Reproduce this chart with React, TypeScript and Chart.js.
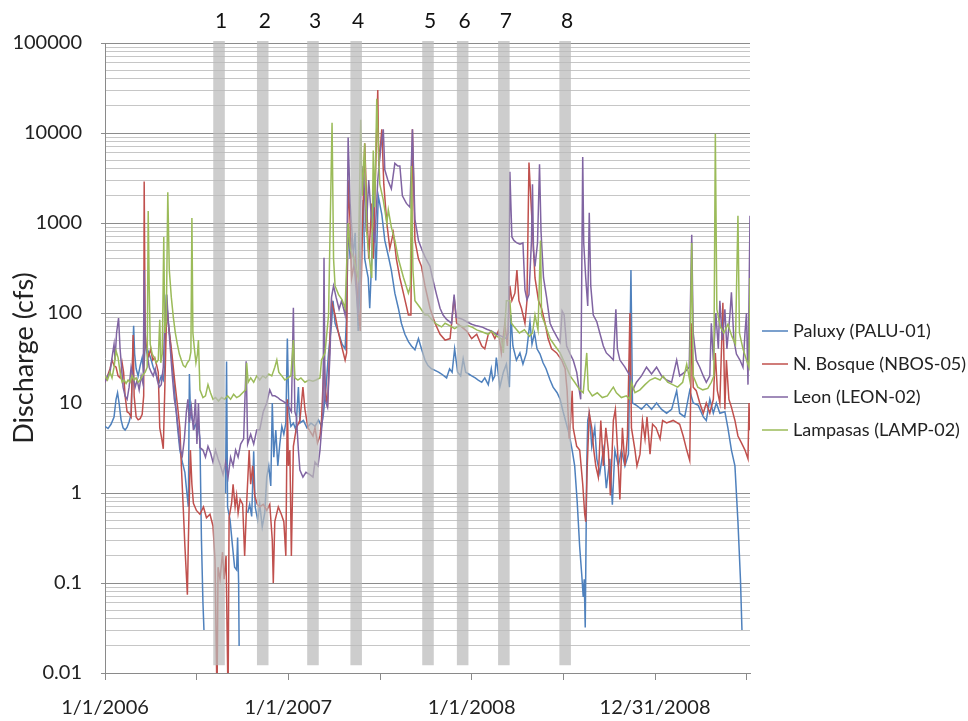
import React, { useEffect, useRef } from "react";
import { Chart, registerables } from "chart.js";

Chart.register(...registerables);

const FONT = "Lato, 'Open Sans', sans-serif";

// x values are days counted from 1/1/2006
const xTickDays = [0, 182.5, 365, 547.5, 730, 912.5, 1095, 1277.5];
const xTickLabels = ["1/1/2006", "", "1/1/2007", "", "1/1/2008", "", "12/31/2008", ""];
const yDecades = [0.01, 0.1, 1, 10, 100, 1000, 10000, 100000];
const yDecadeLabels = ["0.01", "0.1", "1", "10", "100", "1000", "10000", "100000"];
const yMinorSteps = [2, 3, 4, 5, 6, 7, 8, 9];

const seriesNames = ["Paluxy (PALU-01)", "N. Bosque (NBOS-05)", "Leon (LEON-02)", "Lampasas (LAMP-02)"];
const seriesColors = ["#4F81BD", "#C0504D", "#8064A2", "#9BBB59"];

// sampling events (centre day of each window)
const eventDays = [227, 314, 414, 500, 643, 712, 794, 916];
const eventLabels = ["1", "2", "3", "4", "5", "6", "7", "8"];
const eventSpanDays = 23;
const eventFloorCfs = 0.0122;

type Row = [number, number | null];

const paluxyFlow: Row[] = [
  [0,5.5],[6,5.2],[12,5.8],[18,7],[22,11],[25,13],[28,10],[32,6.5],[36,5.3],[40,5],[44,5.4],[48,6.2],[52,7.5],[55,30],[57,72],[59,35],[62,24],[66,20],[70,26],[74,32],[77,22],[80,45],[84,40],[88,35],[92,30],[96,25],[100,22],[104,19],[108,17],[112,20],[116,18],[119,25],[122,160],[125,90],[129,55],[133,30],[137,18],[141,9],[145,5],[149,3],[154,2.2],[159,1.7],[163,1],[166,0.7],[168,21],[170,8],[174,6.4],[178,5.3],[182,6],[186,5.5],[189,4],[192,0.3],[195,0.06],[197,0.03],[198,null],
  [240,1],[242,29],[244,0.7],[249,0.5],[254,0.25],[258,0.15],[262,0.14],[264,0.32],[266,0.1],[267,0.02],[268,null],
  [284,0.6],[288,0.75],[292,0.55],[296,2.9],[299,0.7],[304,0.5],[308,0.75],[313,0.42],[318,0.6],[322,1.5],[326,2],[330,1.2],[333,10],[336,2.5],[340,5],[344,2],[348,3.5],[352,5.5],[356,4.5],[360,6],[363,52],[366,8],[370,5.5],[375,6],[380,5],[385,15],[388,6],[395,6.4],[402,5.3],[410,6],[418,5.5],[425,6.5],[431,5.5],[435,7.7],[440,15],[445,36],[451,77],[454,137],[458,77],[465,60],[472,45],[478,40],[481,95],[484,1000],[488,400],[491,640],[495,500],[498,780],[501,200],[504,63],[508,245],[514,1800],[517,400],[521,300],[524,245],[527,113],[531,400],[535,2700],[539,230],[544,2000],[551,1250],[557,640],[564,430],[570,300],[577,166],[584,113],[590,77],[597,58],[604,48],[610,43],[617,39],[624,52],[630,40],[637,30],[643,26],[650,24],[657,23],[664,22],[670,21],[680,19],[686,24],[691,22],[696,40],[702,22],[708,20],[713,31],[718,22],[724,21],[730,20],[737,19],[743,18],[750,17],[756,19],[763,16],[769,24],[772,18],[776,20],[779,32],[786,15],[793,22],[799,27],[805,15],[808,95],[812,43],[819,30],[826,36],[832,27],[839,36],[846,80],[850,45],[855,60],[860,40],[866,35],[872,28],[878,24],[886,18],[892,15],[900,13],[906,11],[912,8],[918,6],[924,4.5],[930,3],[935,2],[940,0.8],[945,0.25],[949,0.125],[952,0.07],[954,0.11],[956,0.032],[959,2],[961,6.4],[964,7.7],[969,3.3],[975,5.3],[979,2.4],[985,1.66],[992,3],[998,1.13],[1005,2.4],[1010,0.74],[1015,3],[1022,2],[1028,3],[1035,2],[1042,2.7],[1047,300],[1050,10],[1058,9.4],[1068,8.5],[1078,9.8],[1088,8.5],[1098,10],[1108,8.5],[1118,7.7],[1128,8.5],[1138,13.7],[1144,7.7],[1154,7],[1164,13.7],[1171,10],[1181,9.4],[1191,7],[1197,6.4],[1204,11],[1211,7.7],[1217,10],[1224,7.7],[1234,8],[1240,5.3],[1247,3],[1254,2],[1260,0.48],[1265,0.11],[1268,0.03]
];

const bosqueFlow: Row[] = [
  [0,17],[5,20],[10,24],[14,30],[18,26],[22,25],[26,20],[30,19],[34,28],[37,22],[40,12],[44,8],[48,7.7],[52,7],[56,57],[58,12],[62,7],[66,6.5],[70,6.7],[74,7.5],[77,12],[78,2900],[80,60],[83,38],[87,33],[91,40],[95,30],[99,32],[103,26],[106,22],[109,5.3],[113,4],[116,3.1],[119,14],[123,125],[126,77],[133,36],[139,17],[146,7.7],[149,5.3],[152,2],[156,0.64],[159,0.26],[164,0.074],[166,0.3],[170,3],[173,1.25],[176,0.77],[182,0.64],[189,0.58],[196,0.7],[202,0.53],[209,0.58],[215,0.43],[219,0.18],[223,0.005],[225,0.15],[229,0.11],[234,0.22],[237,0.11],[241,0.2],[245,0.005],[247,0.53],[252,0.77],[255,1.25],[259,0.7],[262,0.94],[265,0.6],[269,0.85],[274,0.75],[278,0.2],[282,0.77],[287,3],[290,1.25],[294,2],[298,0.94],[303,0.75],[308,0.7],[315,0.75],[322,0.64],[328,0.75],[333,0.3],[335,0.1],[338,0.48],[345,0.7],[351,0.58],[356,0.48],[360,0.2],[363,11],[365,2],[368,3],[371,0.2],[375,3.3],[381,5.3],[388,6.4],[394,15],[398,8.5],[404,5.3],[414,4.3],[418,5.3],[423,3.6],[428,4.3],[431,6.4],[436,30],[439,13.7],[443,9],[448,58],[451,137],[458,95],[464,63],[471,43],[478,30],[481,36],[484,3000],[488,1000],[491,245],[498,400],[503,137],[508,63],[512,640],[517,7700],[521,1650],[525,400],[531,1650],[534,400],[543,30000],[545,4300],[551,11000],[555,2700],[561,1000],[567,520],[574,780],[580,400],[587,245],[594,166],[604,95],[609,95],[612,11000],[617,640],[624,400],[630,330],[637,200],[647,113],[657,77],[667,58],[677,50],[687,52],[695,150],[700,77],[710,70],[720,63],[730,52],[740,58],[750,43],[756,40],[763,58],[769,63],[776,52],[783,63],[789,36],[796,77],[801,43],[806,200],[810,137],[816,166],[820,300],[824,137],[829,113],[836,77],[840,137],[844,4700],[849,1350],[856,245],[863,137],[869,113],[876,77],[882,52],[889,40],[899,36],[909,30],[916,24],[920,13.7],[924,4],[927,6.4],[930,13.7],[932,5.3],[939,3.3],[945,3],[951,1.25],[955,0.58],[957,0.48],[960,2],[964,7.7],[969,5.3],[973,3],[977,2],[982,1.5],[987,6.4],[992,2],[997,5.3],[1002,3],[1006,0.94],[1012,6.4],[1016,8.5],[1020,3.3],[1025,0.85],[1030,5.3],[1035,2],[1040,4.3],[1045,100],[1048,5.3],[1055,3],[1059,2],[1065,2.7],[1070,6.4],[1075,4],[1079,7],[1085,2.7],[1090,5.8],[1097,5.3],[1105,4],[1110,6.4],[1118,6],[1131,6.4],[1144,5.8],[1151,4.3],[1158,3],[1164,2.3],[1168,77],[1171,15],[1177,13.7],[1184,10],[1191,7.7],[1197,10],[1204,7.7],[1211,11],[1215,36],[1219,13.7],[1224,10],[1230,130],[1234,8.5],[1237,30],[1242,11],[1247,9],[1254,6.4],[1260,4.3],[1267,3.6],[1274,3],[1280,2.4],[1282,10],[1284,5]
];

const leonFlow: Row[] = [
  [0,17],[5,20],[10,22],[15,35],[18,45],[20,30],[23,60],[27,88],[30,40],[33,25],[36,15],[40,12],[44,11],[48,15],[52,25],[56,20],[60,15],[64,18],[68,14],[72,20],[76,16],[78,300],[80,45],[84,35],[88,25],[92,22],[96,20],[100,24],[104,18],[108,15],[112,16],[116,25],[119,80],[123,160],[126,80],[130,40],[134,20],[138,11],[142,8],[146,5],[150,3],[154,2.6],[158,4],[162,8],[165,11],[168,6],[172,9],[176,5],[180,11],[183,3.5],[186,10],[189,3.2],[195,3],[200,2.5],[205,3.3],[210,2.8],[215,2.2],[220,3],[225,2.4],[230,2],[235,1.6],[240,2.2],[245,1.5],[250,2.5],[255,2],[260,3],[265,2.5],[270,3.5],[276,4],[281,29],[284,3.5],[290,4.5],[296,3.5],[302,5],[308,5],[315,8],[322,10],[328,14],[333,12],[338,12],[344,11.5],[348,11],[354,10.5],[360,10],[366,9],[371,8],[375,114],[378,8],[381,7],[385,3],[388,1.8],[394,1.5],[400,1.7],[408,1.6],[414,1.5],[418,2.2],[424,2],[428,3],[431,5],[434,8],[436,410],[438,11],[443,9],[448,36],[451,150],[455,200],[460,150],[466,110],[471,137],[478,95],[481,200],[484,8900],[488,1650],[493,600],[498,250],[504,95],[508,1650],[514,4300],[520,800],[525,3000],[531,1000],[537,600],[543,3000],[549,7000],[554,11000],[557,3900],[563,3000],[570,2400],[577,4600],[583,4300],[587,4300],[592,2000],[600,1650],[607,1500],[612,11000],[617,1100],[624,640],[630,520],[637,420],[647,330],[652,245],[660,160],[667,113],[673,95],[680,85],[690,77],[695,160],[699,90],[705,88],[712,85],[720,80],[730,75],[740,72],[750,70],[760,66],[770,63],[780,58],[790,55],[799,52],[803,60],[806,3700],[810,700],[814,640],[820,600],[826,580],[832,600],[836,180],[840,140],[844,160],[849,640],[851,2700],[853,500],[856,330],[861,600],[865,4500],[868,800],[873,245],[879,150],[886,77],[892,65],[899,55],[906,47],[910,105],[914,95],[919,43],[926,35],[932,30],[939,22],[944,14],[947,11],[951,5400],[953,600],[957,245],[961,120],[964,1300],[967,200],[972,95],[979,80],[985,60],[992,43],[998,36],[1005,33],[1012,30],[1017,110],[1020,40],[1025,30],[1035,25],[1045,20],[1050,13.7],[1058,17],[1068,20],[1078,25],[1088,21],[1098,25],[1108,20],[1118,18],[1128,17],[1138,30],[1144,20],[1154,22],[1163,25],[1168,740],[1171,60],[1177,30],[1184,25],[1191,20],[1197,17],[1204,20],[1207,77],[1211,30],[1216,100],[1221,40],[1224,137],[1229,50],[1234,110],[1238,40],[1244,95],[1247,170],[1252,50],[1257,35],[1264,30],[1270,25],[1274,60],[1277,100],[1280,16],[1284,1200]
];

const lampasasFlow: Row[] = [
  [0,20],[5,18],[10,22],[14,19],[18,25],[22,38],[26,32],[30,22],[34,17],[38,18],[42,16.5],[46,18],[50,17],[54,20],[58,18],[62,19],[66,17],[70,18],[74,20],[80,22],[84,25],[86,1360],[88,200],[90,45],[94,35],[98,32],[102,28],[106,30],[109,84],[111,28],[114,35],[117,700],[119,60],[122,80],[125,2200],[128,300],[132,150],[136,90],[140,60],[144,45],[148,35],[152,30],[156,26],[160,25],[164,28],[168,30],[171,37],[173,1137],[175,60],[178,40],[181,28],[184,35],[186,50],[189,14],[195,11.5],[200,12],[205,16],[210,13],[215,11],[220,11.5],[226,10.5],[232,11.5],[238,11],[244,12],[250,11],[256,12.5],[262,11.5],[268,12],[274,13],[280,14],[282,28],[285,17],[290,19],[296,17],[302,20],[308,18],[314,20],[320,19],[326,21],[332,20],[338,25],[342,30],[346,22],[352,20],[358,18],[364,19],[370,20],[375,50],[378,19],[384,18],[390,19],[398,17],[406,18],[414,17.5],[420,18],[428,19],[431,30],[438,36],[445,95],[452,13000],[455,400],[458,200],[465,160],[472,140],[478,113],[484,1000],[488,520],[495,400],[504,245],[509,14000],[512,2000],[517,7700],[521,800],[524,520],[531,245],[534,6400],[537,1500],[541,24000],[547,2700],[554,1800],[561,1000],[564,1400],[570,900],[577,640],[584,400],[594,250],[604,166],[608,200],[610,4300],[613,300],[617,137],[627,115],[637,95],[643,95],[650,85],[660,75],[670,70],[677,77],[687,72],[696,67],[705,72],[715,70],[723,72],[730,70],[740,65],[750,62],[763,58],[769,63],[780,55],[789,52],[793,36],[799,137],[806,137],[809,77],[815,70],[825,60],[835,65],[845,55],[851,60],[856,95],[862,65],[867,640],[869,95],[876,75],[886,52],[896,43],[906,36],[916,27],[926,20],[935,17],[945,14],[952,13],[959,36],[962,14],[970,12],[980,13],[990,11.5],[1000,12],[1008,14],[1012,15],[1018,13],[1028,11.5],[1038,12],[1045,11],[1048,17],[1055,13],[1065,14],[1075,16],[1085,18],[1095,19],[1105,18],[1111,20],[1120,17],[1130,16],[1140,15],[1150,17],[1158,27],[1164,18],[1168,600],[1171,20],[1180,15],[1190,14],[1200,14.5],[1207,17],[1212,20],[1215,9800],[1218,110],[1225,70],[1232,60],[1240,75],[1248,55],[1255,45],[1260,1200],[1263,60],[1270,40],[1277,30],[1282,25],[1284,245]
];

const seriesRows = [paluxyFlow, bosqueFlow, leonFlow, lampasasFlow];

const toPoints = (rows: Row[]) => rows.map(([d, v]) => ({ x: d, y: v }));

// decade ticks plus the 2..9 minor ticks between them
const buildLogTicks = () => {
  const ticks: { value: number; major: boolean }[] = [];
  yDecades.forEach((d, i) => {
    ticks.push({ value: d, major: true });
    if (i < yDecades.length - 1) yMinorSteps.forEach((m) => ticks.push({ value: m * d, major: false }));
  });
  return ticks;
};

const decadeLabel = (v: number) => {
  const k = yDecades.findIndex((d) => Math.abs(d - v) / d < 1e-9);
  return k >= 0 ? yDecadeLabels[k] : "";
};

const eventBands = {
  id: "eventBands",
  afterDatasetsDraw(chart: any) {
    const { ctx, chartArea, scales } = chart;
    const xs = scales.x;
    const ys = scales.y;
    const bottom = ys.getPixelForValue(eventFloorCfs);
    ctx.save();
    ctx.fillStyle = "rgba(186,186,186,0.72)";
    eventDays.forEach((d) => {
      const l = xs.getPixelForValue(d - eventSpanDays / 2);
      const r = xs.getPixelForValue(d + eventSpanDays / 2);
      ctx.fillRect(l, chartArea.top - 2, r - l, bottom - chartArea.top + 2);
    });
    ctx.fillStyle = "#111";
    ctx.font = `21px ${FONT}`;
    ctx.textAlign = "center";
    ctx.textBaseline = "alphabetic";
    eventDays.forEach((d, i) => ctx.fillText(eventLabels[i], xs.getPixelForValue(d) + 2, 28));
    ctx.restore();
  },
};

const sideLegend = {
  id: "sideLegend",
  afterDraw(chart: any) {
    const { ctx, chartArea } = chart;
    const x0 = chartArea.right + 12;
    ctx.save();
    ctx.font = `18px ${FONT}`;
    ctx.textAlign = "left";
    ctx.textBaseline = "middle";
    seriesNames.forEach((name, i) => {
      const yy = 331 + i * 33;
      ctx.strokeStyle = seriesColors[i];
      ctx.lineWidth = 1.5;
      ctx.beginPath();
      ctx.moveTo(x0, yy);
      ctx.lineTo(x0 + 26, yy);
      ctx.stroke();
      ctx.fillStyle = "#222";
      ctx.fillText(name, x0 + 31, yy);
    });
    ctx.restore();
  },
};

export default function App() {
  const canvasRef = useRef<HTMLCanvasElement>(null);

  useEffect(() => {
    if (!canvasRef.current) return;
    const yTicks = buildLogTicks();
    const chart = new Chart(canvasRef.current, {
      type: "line",
      data: {
        datasets: seriesRows.map((rows, i) => ({
          label: seriesNames[i],
          data: toPoints(rows),
          borderColor: seriesColors[i],
          backgroundColor: seriesColors[i],
          borderWidth: 1.5,
          pointRadius: 0,
          tension: 0,
          spanGaps: false,
          order: seriesRows.length - i,
        })),
      },
      options: {
        responsive: false,
        animation: false,
        layout: { padding: { left: 0, right: 218, top: 43, bottom: 0 } },
        plugins: { legend: { display: false }, tooltip: { enabled: false } },
        scales: {
          x: {
            type: "linear",
            min: 0,
            max: 1284,
            afterBuildTicks: (s: any) => {
              s.ticks = xTickDays.map((v) => ({ value: v }));
            },
            afterFit: (s: any) => {
              s.height = 48;
            },
            grid: { drawOnChartArea: false, drawTicks: true, tickLength: 7, color: "#8a8a8a" },
            border: { color: "#8a8a8a" },
            ticks: {
              autoSkip: false,
              maxRotation: 0,
              padding: 16,
              color: "#222",
              font: { family: FONT, size: 20 },
              callback: (_v: any, i: number) => xTickLabels[i],
            },
          },
          y: {
            type: "logarithmic",
            min: 0.01,
            max: 100000,
            afterBuildTicks: (s: any) => {
              s.ticks = yTicks.map((t) => ({ ...t }));
            },
            afterFit: (s: any) => {
              s.width = 105;
            },
            grid: {
              color: (c: any) => (c.tick && c.tick.major ? "#8c8c8c" : "#c6c6c6"),
              tickColor: (c: any) => (c.tick && c.tick.major ? "#8c8c8c" : "rgba(0,0,0,0)"),
              tickLength: 4,
            },
            border: { color: "#8a8a8a" },
            ticks: {
              autoSkip: false,
              padding: 19,
              color: "#222",
              font: { family: FONT, size: 20 },
              callback: (v: any) => decadeLabel(Number(v)),
            },
            title: {
              display: true,
              text: "Discharge (cfs)",
              color: "#222",
              font: { family: FONT, size: 27 },
              padding: { top: 8, bottom: 0 },
            },
          },
        },
      } as any,
      plugins: [eventBands, sideLegend],
    });
    return () => chart.destroy();
  }, []);

  return (
    <div style={{ position: "fixed", left: 0, top: 0, width: 968, height: 721, background: "#fff" }}>
      <canvas ref={canvasRef} width={968} height={721} style={{ display: "block", width: 968, height: 721 }} />
    </div>
  );
}
